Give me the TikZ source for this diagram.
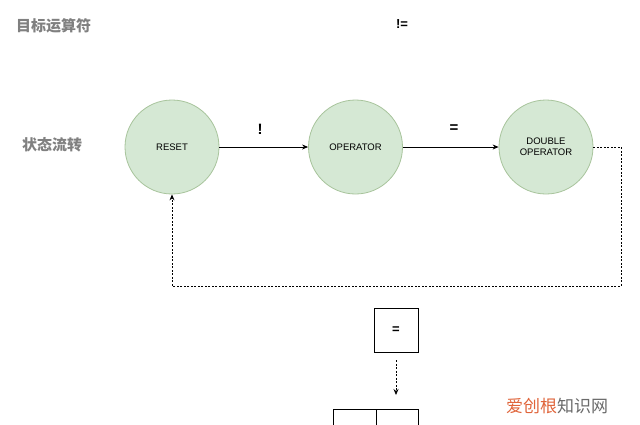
\documentclass[tikz,border=0pt]{standalone}
\usepackage{fontspec}
\setmainfont{Liberation Sans}
\newfontfamily\cjk{Noto Sans CJK SC}
\usetikzlibrary{arrows.meta}
\definecolor{nodefill}{HTML}{D5E8D4}
\definecolor{nodeline}{HTML}{A8C49C}
\definecolor{labelgray}{HTML}{808080}
\definecolor{wmorange}{HTML}{E0643A}
\definecolor{wmgray}{HTML}{6A6A6A}
\tikzset{
  state/.style={circle, fill=nodefill, draw=nodeline, line width=0.8pt, minimum size=94pt, inner sep=0pt, font=\fontsize{9.5}{11}\selectfont, align=center},
  cnlabel/.style={font=\cjk\bfseries\fontsize{15}{17}\selectfont, text=labelgray, inner sep=0pt},
  flow/.style={-{Stealth[length=6pt,width=5pt]}, line width=0.8pt},
  backflow/.style={-{Stealth[length=6pt,width=5pt]}, line width=0.8pt, dash pattern=on 2pt off 1.5pt},
  edgelabel/.style={font=\bfseries\fontsize{15}{16}\selectfont, inner sep=0pt},
  cell/.style={draw, line width=0.8pt, minimum height=44pt, inner sep=0pt, font=\bfseries\fontsize{13}{14}\selectfont}
}
\begin{document}
\begin{tikzpicture}[x=1pt,y=-1pt]
\useasboundingbox (0,0) rectangle (640,424);
\clip (0,0) rectangle (640,424);
\fill[white] (0,0) rectangle (640,424);

\node[cnlabel, anchor=west] (title) at (16,26) {目标运算符};
\node[font=\bfseries\fontsize{13}{14}\selectfont, inner sep=0pt] (target) at (402,24) {!=};
\node[cnlabel, anchor=west] (flowlabel) at (22,145) {状态流转};

\node[state] (reset) at (172,147) {RESET};
\node[state] (op) at (355.5,147) {OPERATOR};
\node[state] (dop) at (546,147) {DOUBLE\\OPERATOR};

\draw[flow] (reset) -- (op);
\draw[flow] (op) -- (dop);
\node[edgelabel] (l1) at (260,129) {!};
\node[edgelabel] (l2) at (454,129) {=};

\coordinate (c1) at (621,147);
\coordinate (c2) at (621,286);
\coordinate (c3) at (172,286);
\draw[backflow] (dop.east) -- (c1) -- (c2) -- (c3) -- (reset.south);

\node[cell, minimum width=44pt] (eq) at (396,330) {=};
\coordinate (arrend) at (396,395);
\draw[backflow, shorten <=8pt] (eq.south) -- (arrend);

\node[cell, minimum width=43pt] (b1) at (354.5,431) {};
\node[cell, minimum width=42pt] (b2) at (397,431) {};

\node[font=\cjk\fontsize{17}{19}\selectfont, anchor=west, inner sep=0pt] (wm) at (506,406) {\textcolor{wmorange}{爱创根}\textcolor{wmgray}{知识网}};
\end{tikzpicture}
\end{document}
